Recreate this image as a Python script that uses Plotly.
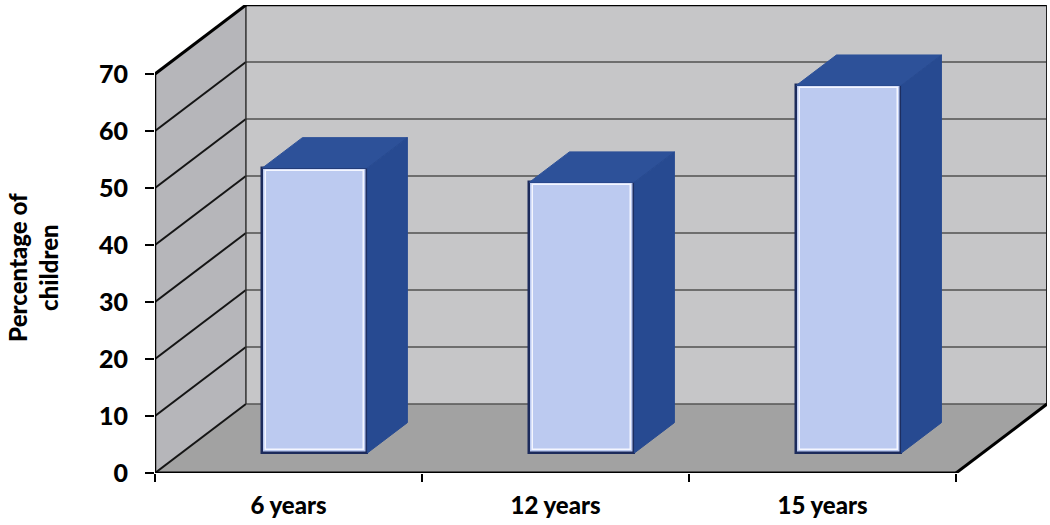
import plotly.graph_objects as go

categories = ["6 years", "12 years", "15 years"]
values = [50, 47.5, 64.5]
y_ticks = [0, 10, 20, 30, 40, 50, 60, 70]
y_title = "Percentage of<br>children"

# oblique projection parameters (data units)
DX = 0.3405   # depth shift along x (category units)
DY = 12.1     # depth shift along y (value units)
YMAX = 70
N = len(categories)
F0 = 0.29     # bar front depth fraction
FD = 0.44     # bar depth fraction
BW = 0.393    # bar width (category units)

FONT = "Lato"
WEIGHT = 900
BACK = "#c6c6c8"
LEFTW = "#b6b6ba"
FLOOR = "#a2a2a2"
FRONT = "#bccaf0"
TOP = "#2d5199"
SIDE = "#274a91"

shapes = []
def poly(pts, fill, line_color=None, lw=0):
    p = "M " + " L ".join(f"{x},{y}" for x, y in pts) + " Z"
    shapes.append(dict(type="path", path=p, xref="x", yref="y", fillcolor=fill,
                       line=dict(color=line_color or fill, width=lw), layer="below"))
def seg(x0, y0, x1, y1, color, w):
    shapes.append(dict(type="line", x0=x0, y0=y0, x1=x1, y1=y1, xref="x", yref="y",
                       line=dict(color=color, width=w), layer="below"))

# walls
poly([(DX, DY), (N + DX, DY), (N + DX, YMAX + DY), (DX, YMAX + DY)], BACK)
poly([(0, 0), (DX, DY), (DX, YMAX + DY), (0, YMAX)], LEFTW)
poly([(0, 0), (N, 0), (N + DX, DY), (DX, DY)], FLOOR)

# gridlines
for v in y_ticks[1:-1]:
    seg(DX, v + DY, N + DX, v + DY, "#505050", 1.5)
    seg(0, v, DX, v + DY, "#151515", 2)
seg(0, 0, DX, DY, "#151515", 2)
seg(DX, DY, N + DX, DY, "#555555", 1.5)
seg(DX, DY, DX, YMAX + DY, "#303030", 1.5)
# frame edges
seg(0, YMAX, DX, YMAX + DY, "#000000", 3)
seg(DX, YMAX + DY, N + DX, YMAX + DY, "#000000", 2.5)
seg(N + DX, DY, N + DX, YMAX + DY, "#202020", 2)
seg(0, 0, 0, YMAX, "#000000", 2.5)
seg(0, 0, N, 0, "#000000", 3)
seg(N, 0, N + DX, DY, "#000000", 3)

fig = go.Figure()

bx0 = F0 * DX
by0 = F0 * DY
ddx = FD * DX
ddy = FD * DY
centers = [i + 0.5 + bx0 for i in range(N)]

for c, v in zip(centers, values):
    xl, xr = c - BW / 2, c + BW / 2
    top = by0 + v
    fig.add_trace(go.Scatter(
        x=[xl, xr, xr + ddx, xl + ddx, xl], y=[top, top, top + ddy, top + ddy, top],
        fill="toself", fillcolor=TOP, line=dict(color=TOP, width=1), mode="lines",
        hoverinfo="skip", showlegend=False))
    fig.add_trace(go.Scatter(
        x=[xr, xr + ddx, xr + ddx, xr, xr], y=[by0, by0 + ddy, top + ddy, top, by0],
        fill="toself", fillcolor=SIDE, line=dict(color=SIDE, width=1), mode="lines",
        hoverinfo="skip", showlegend=False))

fig.add_trace(go.Bar(
    x=centers, y=values, base=[by0] * N, width=BW,
    marker=dict(color=FRONT, line=dict(color="#1c2b5c", width=2.5)),
    showlegend=False, hoverinfo="skip"))
# inner white rim of the front face
INSET_X = 0.012
INSET_Y = 0.55
fig.add_trace(go.Bar(
    x=centers, y=[v - 2 * INSET_Y for v in values], base=[by0 + INSET_Y] * N,
    width=BW - 2 * INSET_X,
    marker=dict(color=FRONT, line=dict(color="#f4f6ff", width=1.5)),
    showlegend=False, hoverinfo="skip"))

fig.update_layout(
    width=1050, height=525,
    margin=dict(l=155, r=3, t=5, b=52),
    paper_bgcolor="white", plot_bgcolor="white",
    shapes=shapes, barmode="overlay",
    font=dict(family=FONT, color="#000000", size=20),
    xaxis=dict(range=[0, N + DX], showgrid=False, zeroline=False, showline=False,
               tickmode="array", tickvals=[i + 0.5 for i in range(N)], ticktext=categories,
               ticks="", ticklabelstandoff=16,
               tickfont=dict(family=FONT, size=24, weight=WEIGHT),
               minor=dict(tickmode="array", tickvals=list(range(N + 1)), ticks="outside",
                          ticklen=8, tickwidth=2, tickcolor="#000000", showgrid=False)),
    yaxis=dict(range=[0, YMAX + DY], showgrid=False, zeroline=False, showline=False,
               tickmode="array", tickvals=y_ticks, ticks="outside", ticklen=9,
               tickwidth=2, tickcolor="#000000", ticklabelstandoff=12,
               tickfont=dict(family=FONT, size=25, weight=WEIGHT)),
    bargap=0,
    annotations=[dict(text=y_title, xref="paper", yref="paper", x=-0.137, y=0.44,
                      xanchor="center", yanchor="middle", textangle=-90, showarrow=False,
                      font=dict(family=FONT, size=24, weight=WEIGHT))],
)

fig.write_html("out.html")
